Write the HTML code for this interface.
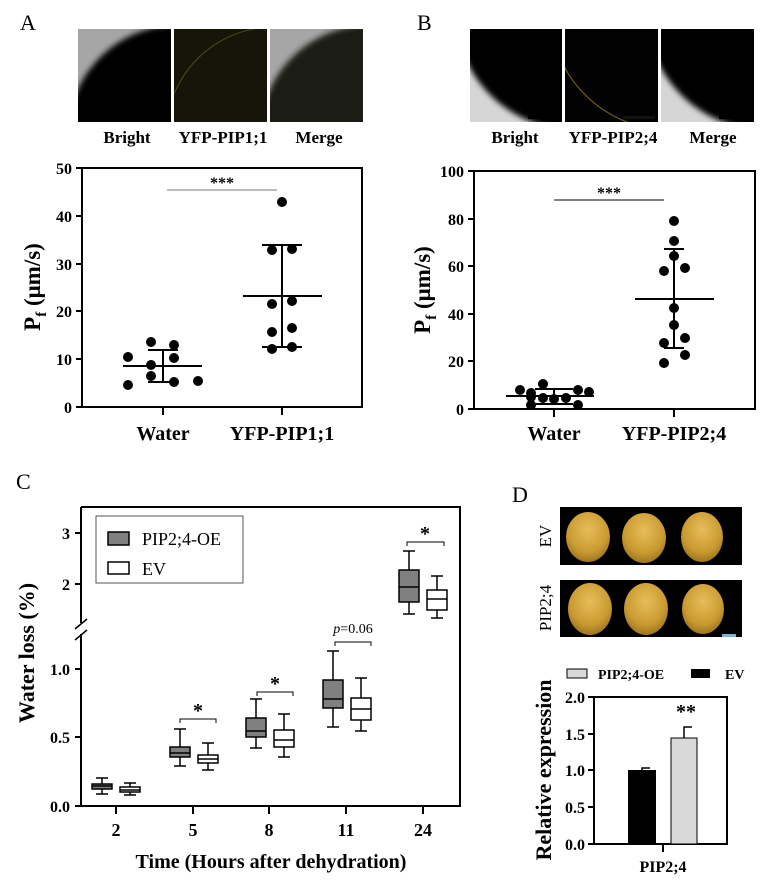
<!DOCTYPE html>
<html><head><meta charset="utf-8"><style>
body{margin:0;background:#fff}
svg{display:block}
text{font-family:"Liberation Serif",serif;fill:#000}
.b{font-weight:bold}
</style></head><body>
<svg width="774" height="885" viewBox="0 0 774 885" xmlns="http://www.w3.org/2000/svg">
<defs>
<filter id="bl"><feGaussianBlur stdDeviation="3"/></filter>
<clipPath id="a1"><rect x="78" y="29" width="93" height="93"/></clipPath>
<clipPath id="a2"><rect x="174" y="29" width="93" height="93"/></clipPath>
<clipPath id="a3"><rect x="270" y="29" width="93" height="93"/></clipPath>
<clipPath id="b1"><rect x="470" y="29" width="92" height="93"/></clipPath>
<clipPath id="b2"><rect x="565" y="29" width="93" height="93"/></clipPath>
<clipPath id="b3"><rect x="661" y="29" width="93" height="93"/></clipPath>
<radialGradient id="org" cx="0.5" cy="0.35" r="0.65"><stop offset="0" stop-color="#e7bd5a"/><stop offset="0.7" stop-color="#c99a30"/><stop offset="1" stop-color="#9d7420"/></radialGradient>
</defs>

<!-- Panel A -->
<text x="20" y="30" font-size="22">A</text>
<g clip-path="url(#a1)"><rect x="78" y="29" width="93" height="93" fill="#a6a6a6"/><circle cx="178" cy="135" r="110" fill="#000" filter="url(#bl)"/></g>
<g clip-path="url(#a2)"><rect x="174" y="29" width="93" height="93" fill="#15150a"/><circle cx="274" cy="135" r="108" fill="none" stroke="#4e4d18" stroke-width="1"/></g>
<g clip-path="url(#a3)"><rect x="270" y="29" width="93" height="93" fill="#a6a6a6"/><circle cx="370" cy="135" r="110" fill="#1e1d12" filter="url(#bl)"/></g>
<text class="b" x="127" y="143" font-size="17" text-anchor="middle">Bright</text>
<text class="b" x="223" y="143" font-size="17" text-anchor="middle">YFP-PIP1;1</text>
<text class="b" x="319" y="143" font-size="17" text-anchor="middle">Merge</text>

<g stroke="#000" stroke-width="2" fill="none">
<rect x="82" y="168" width="280" height="239"/>
<path d="M76 168H82M76 216H82M76 264H82M76 311H82M76 359H82M76 407H82M163 407V415M282 407V415"/>
</g>
<g text-anchor="end" font-size="16">
<text class="b" x="72" y="174">50</text><text class="b" x="72" y="222">40</text><text class="b" x="72" y="270">30</text><text class="b" x="72" y="317">20</text><text class="b" x="72" y="365">10</text><text class="b" x="72" y="413">0</text>
</g>
<text class="b" x="163" y="440" font-size="20" text-anchor="middle">Water</text>
<text class="b" x="282" y="440" font-size="20" text-anchor="middle">YFP-PIP1;1</text>
<text class="b" transform="translate(40,287) rotate(-90)" font-size="23" text-anchor="middle">P<tspan font-size="15" dy="6">f</tspan><tspan dy="-6"> (μm/s)</tspan></text>
<line x1="167" y1="190" x2="277" y2="190" stroke="#777" stroke-width="1"/>
<text class="b" x="222" y="188" font-size="16" text-anchor="middle">***</text>
<g fill="#000">
<circle cx="128" cy="357" r="5"/><circle cx="128" cy="385" r="5"/><circle cx="151" cy="342" r="5"/><circle cx="151" cy="365" r="5"/><circle cx="151" cy="376" r="5"/><circle cx="174" cy="345" r="5"/><circle cx="174" cy="358" r="5"/><circle cx="174" cy="382" r="5"/><circle cx="198" cy="381" r="5"/>
<circle cx="282" cy="202" r="5"/><circle cx="272" cy="250" r="5"/><circle cx="292" cy="249" r="5"/><circle cx="272" cy="304" r="5"/><circle cx="292" cy="301" r="5"/><circle cx="272" cy="332" r="5"/><circle cx="292" cy="328" r="5"/><circle cx="272" cy="349" r="5"/><circle cx="292" cy="347" r="5"/>
</g>
<g stroke="#000" stroke-width="2" fill="none">
<path d="M123 366H202M163 350V382M148 350H178M148 382H178"/>
<path d="M243 296H322M282 245V347M262 245H302M262 347H302"/>
</g>

<!-- Panel B -->
<text x="417" y="30" font-size="22">B</text>
<g clip-path="url(#b1)"><rect x="470" y="29" width="92" height="93" fill="#d6d6d6"/><circle cx="575" cy="10" r="120" fill="#000" filter="url(#bl)"/><rect x="528" y="116" width="32" height="3" fill="#000"/></g>
<g clip-path="url(#b2)"><rect x="565" y="29" width="93" height="93" fill="#020202"/><circle cx="670" cy="10" r="120" fill="none" stroke="#6e5a10" stroke-width="1.2"/><rect x="623" y="116" width="32" height="3" fill="#111"/></g>
<g clip-path="url(#b3)"><rect x="661" y="29" width="93" height="93" fill="#d6d6d6"/><circle cx="766" cy="10" r="120" fill="#050503" filter="url(#bl)"/><rect x="719" y="116" width="32" height="3" fill="#000"/></g>
<text class="b" x="515" y="143" font-size="17" text-anchor="middle">Bright</text>
<text class="b" x="613" y="143" font-size="17" text-anchor="middle">YFP-PIP2;4</text>
<text class="b" x="713" y="143" font-size="17" text-anchor="middle">Merge</text>

<g stroke="#000" stroke-width="2" fill="none">
<rect x="474" y="171" width="281" height="238"/>
<path d="M468 171H474M468 219H474M468 266H474M468 314H474M468 361H474M468 409H474M554 409V417M674 409V417"/>
</g>
<g text-anchor="end" font-size="16">
<text class="b" x="464" y="177">100</text><text class="b" x="464" y="225">80</text><text class="b" x="464" y="272">60</text><text class="b" x="464" y="320">40</text><text class="b" x="464" y="367">20</text><text class="b" x="464" y="415">0</text>
</g>
<text class="b" x="554" y="440" font-size="20" text-anchor="middle">Water</text>
<text class="b" x="674" y="440" font-size="20" text-anchor="middle">YFP-PIP2;4</text>
<text class="b" transform="translate(430,290) rotate(-90)" font-size="23" text-anchor="middle">P<tspan font-size="15" dy="6">f</tspan><tspan dy="-6"> (μm/s)</tspan></text>
<line x1="554" y1="200" x2="664" y2="200" stroke="#000" stroke-width="1"/>
<text class="b" x="609" y="198" font-size="16" text-anchor="middle">***</text>
<g fill="#000">
<circle cx="520" cy="390" r="5"/><circle cx="531" cy="393" r="5"/><circle cx="543" cy="384" r="5"/><circle cx="531" cy="397" r="5"/><circle cx="543" cy="398" r="5"/><circle cx="554" cy="399" r="5"/><circle cx="566" cy="398" r="5"/><circle cx="578" cy="390" r="5"/><circle cx="589" cy="392" r="5"/><circle cx="531" cy="405" r="5"/><circle cx="578" cy="405" r="5"/>
<circle cx="674" cy="221" r="5"/><circle cx="674" cy="241" r="5"/><circle cx="674" cy="256" r="5"/><circle cx="664" cy="271" r="5"/><circle cx="685" cy="268" r="5"/><circle cx="674" cy="308" r="5"/><circle cx="674" cy="325" r="5"/><circle cx="664" cy="343" r="5"/><circle cx="685" cy="338" r="5"/><circle cx="664" cy="363" r="5"/><circle cx="685" cy="355" r="5"/>
</g>
<g stroke="#000" stroke-width="2" fill="none">
<path d="M506 396H594M554 389V404M535 389H573M535 404H573"/>
<path d="M635 299H714M674 249V348M664 249H684M664 348H684M677 249H684"/>
</g>

<!-- Panel C -->
<text x="16" y="489" font-size="22">C</text>
<g stroke="#000" stroke-width="2" fill="none">
<path d="M81 507V623M81 634V806H460V507H81"/>
<path d="M75 629L87 619M75 640L87 630" stroke-width="1.5"/>
<path d="M75 533H81M75 584H81M75 669H81M75 737H81M75 806H81"/>
<path d="M116 806V814M193 806V814M269 806V814M346 806V814M423 806V814"/>
</g>
<g text-anchor="end" font-size="16">
<text class="b" x="70" y="539">3</text><text class="b" x="70" y="590">2</text><text class="b" x="70" y="675">1.0</text><text class="b" x="70" y="743">0.5</text><text class="b" x="70" y="812">0.0</text>
</g>
<g text-anchor="middle" font-size="18">
<text class="b" x="116" y="836">2</text><text class="b" x="193" y="836">5</text><text class="b" x="269" y="836">8</text><text class="b" x="346" y="836">11</text><text class="b" x="423" y="836">24</text>
</g>
<text class="b" x="271" y="868" font-size="20" text-anchor="middle">Time (Hours after dehydration)</text>
<text class="b" transform="translate(34,653) rotate(-90)" font-size="22" text-anchor="middle">Water loss (%)</text>
<rect x="96" y="516" width="147" height="67" fill="#fff" stroke="#555" stroke-width="1"/>
<rect x="108" y="532" width="21" height="13" fill="#808080" stroke="#000" stroke-width="1.5"/>
<rect x="108" y="562" width="21" height="12" fill="#fff" stroke="#000" stroke-width="1.5"/>
<text x="142" y="545" font-size="18">PIP2;4-OE</text>
<text x="142" y="575" font-size="18">EV</text>

<g stroke="#000" stroke-width="1.5">
<path d="M102 794V778M96 794H108M96 778H108"/>
<rect x="92" y="784" width="20" height="5" fill="#808080"/>
<path d="M92 786H112"/>
<path d="M130 795V783M124 795H136M124 783H136"/>
<rect x="120" y="787" width="20" height="5" fill="#fff"/>
<path d="M120 790H140"/>
<path d="M180 766V729M174 766H186M174 729H186"/>
<rect x="170" y="747" width="20" height="10" fill="#808080"/>
<path d="M170 753H190"/>
<path d="M208 770V743M202 770H214M202 743H214"/>
<rect x="198" y="755" width="20" height="8" fill="#fff"/>
<path d="M198 759H218"/>
<path d="M256 748V699M250 748H262M250 699H262"/>
<rect x="246" y="718" width="20" height="19" fill="#808080"/>
<path d="M246 731H266"/>
<path d="M284 757V714M278 757H290M278 714H290"/>
<rect x="274" y="730" width="20" height="17" fill="#fff"/>
<path d="M274 740H294"/>
<path d="M333 727V651M327 727H339M327 651H339"/>
<rect x="323" y="680" width="20" height="28" fill="#808080"/>
<path d="M323 699H343"/>
<path d="M361 731V678M355 731H367M355 678H367"/>
<rect x="351" y="698" width="20" height="22" fill="#fff"/>
<path d="M351 709H371"/>
<path d="M409 614V551M403 614H415M403 551H415"/>
<rect x="399" y="570" width="20" height="32" fill="#808080"/>
<path d="M399 587H419"/>
<path d="M437 618V576M431 618H443M431 576H443"/>
<rect x="427" y="590" width="20" height="20" fill="#fff"/>
<path d="M427 599H447"/>
</g>
<g stroke="#000" stroke-width="1" fill="none">
<path d="M180 723V719H216V723M257 696V692H293V696M335 646V642H371V646M407 546V542H444V546"/>
</g>
<g font-size="20" text-anchor="middle">
<text class="b" x="198" y="717">*</text><text class="b" x="275" y="690">*</text><text class="b" x="425" y="540">*</text>
</g>
<text x="353" y="633" font-size="14" text-anchor="middle" fill="#333"><tspan font-style="italic">p</tspan>=0.06</text>

<!-- Panel D -->
<text x="512" y="502" font-size="22">D</text>
<rect x="560" y="507" width="182" height="58" fill="#000"/>
<rect x="560" y="580" width="182" height="57" fill="#000"/>
<g fill="url(#org)">
<ellipse cx="588" cy="537" rx="22" ry="25"/><ellipse cx="644" cy="538" rx="22" ry="25"/><ellipse cx="702" cy="537" rx="21" ry="25"/>
<ellipse cx="590" cy="609" rx="22" ry="26"/><ellipse cx="646" cy="609" rx="22" ry="26"/><ellipse cx="703" cy="609" rx="21" ry="25"/>
</g>
<rect x="722" y="634" width="14" height="3" fill="#7ab0e0"/>
<text transform="translate(551,536) rotate(-90)" font-size="17" text-anchor="middle">EV</text>
<text transform="translate(551,608) rotate(-90)" font-size="17" text-anchor="middle">PIP2;4</text>
<rect x="567" y="669" width="20" height="9" fill="#d9d9d9" stroke="#000" stroke-width="1"/>
<text class="b" x="598" y="679" font-size="14">PIP2;4-OE</text>
<rect x="691" y="669" width="19" height="9" fill="#000"/>
<text class="b" x="725" y="679" font-size="14">EV</text>
<g stroke="#000" stroke-width="2" fill="none">
<path d="M594 697V844H727V697H594"/>
<path d="M588 697H594M588 734H594M588 770H594M588 807H594M588 844H594M663 844V852"/>
</g>
<g text-anchor="end" font-size="16">
<text class="b" x="585" y="703">2.0</text><text class="b" x="585" y="740">1.5</text><text class="b" x="585" y="776">1.0</text><text class="b" x="585" y="813">0.5</text><text class="b" x="585" y="850">0.0</text>
</g>
<rect x="628" y="770" width="28" height="74" fill="#000"/>
<path d="M642 770V768H650" stroke="#000" stroke-width="1.5" fill="none"/>
<rect x="671" y="738" width="26" height="106" fill="#d9d9d9" stroke="#000" stroke-width="1"/>
<path d="M684 738V727H692" stroke="#000" stroke-width="1.5" fill="none"/>
<text class="b" x="686" y="718" font-size="20" text-anchor="middle">**</text>
<text class="b" x="663" y="872" font-size="16" text-anchor="middle">PIP2;4</text>
<text class="b" transform="translate(551,770) rotate(-90)" font-size="22" text-anchor="middle">Relative expression</text>
</svg>
</body></html>
